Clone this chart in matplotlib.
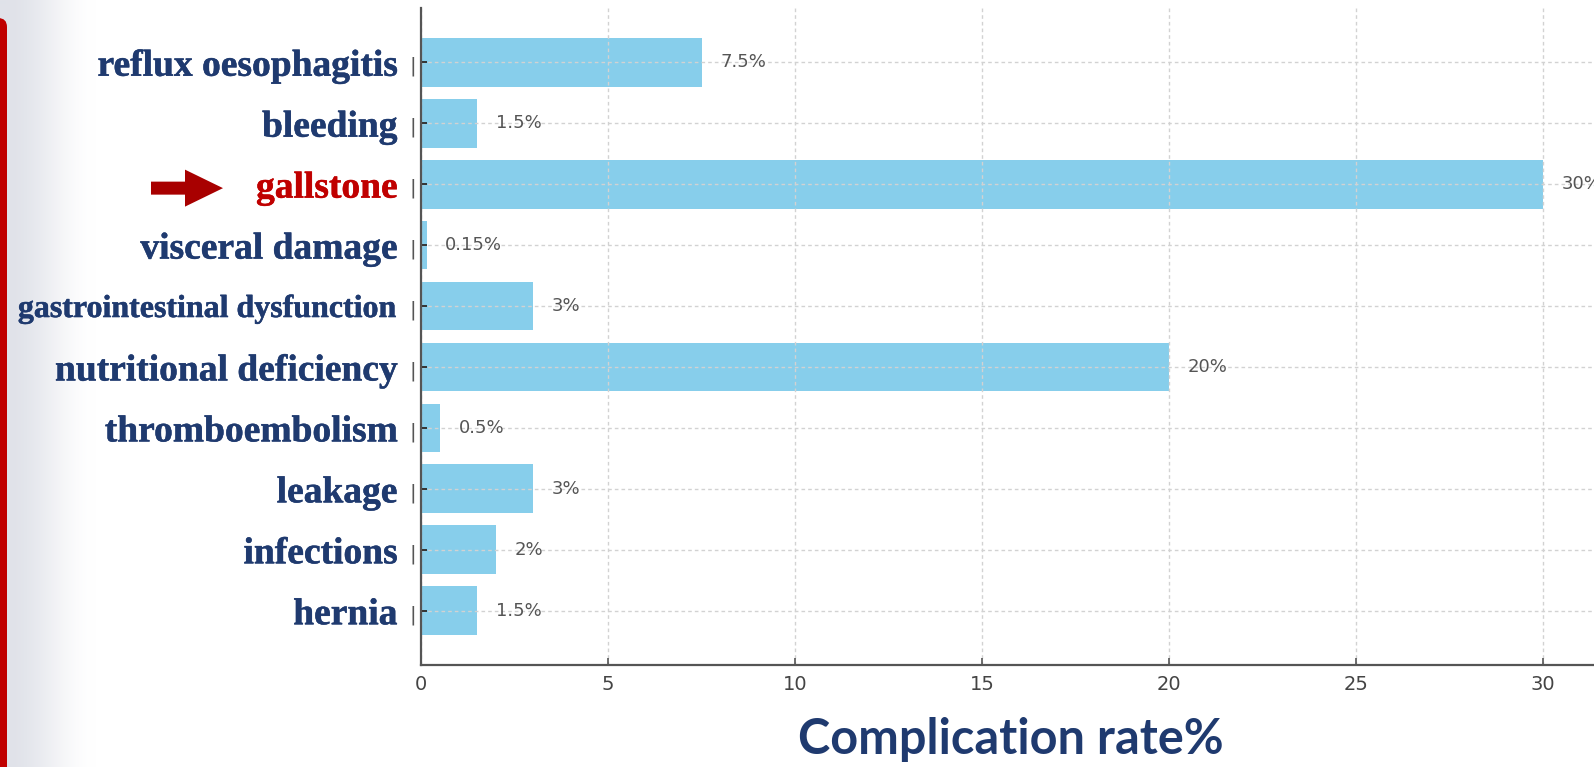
import numpy as np
import matplotlib
matplotlib.use("Agg")
import matplotlib.pyplot as plt
import matplotlib.patheffects as pe
from matplotlib.patches import FancyBboxPatch, FancyArrow
from matplotlib.transforms import IdentityTransform

# complication rates (%) after the procedure
categories = ['reflux oesophagitis', 'bleeding', 'gallstone', 'visceral damage',
              'gastrointestinal dysfunction', 'nutritional deficiency',
              'thromboembolism', 'leakage', 'infections', 'hernia']
rates = [7.5, 1.5, 30, 0.15, 3, 20, 0.5, 3, 2, 1.5]
rate_labels = ['7.5%', '1.5%', '30%', '0.15%', '3%', '20%', '0.5%', '3%', '2%', '1.5%']
xticks = [0, 5, 10, 15, 20, 25, 30]
highlight = 'gallstone'

W, H = 1594, 767
navy = '#1F3A6F'
red = '#C00000'

fig = plt.figure(figsize=(W / 100, H / 100), dpi=100)
fig.patch.set_facecolor('white')

# slide background: soft grey fade on the left edge
bg = fig.add_axes([0, 0, 1, 1], zorder=-2)
bg.axis('off')
cols = np.arange(W)
t = np.clip((cols - 6) / 90.0, 0, 1)
fade = t * t * (3 - 2 * t)
start = np.array([0xE0, 0xE2, 0xE9]) / 255.0
row = start[None, :] * (1 - fade[:, None]) + fade[:, None]
bg.imshow(row[None, :, :], aspect='auto', extent=[0, 1, 0, 1],
          interpolation='bilinear')
bg.set_xlim(0, 1)
bg.set_ylim(0, 1)

# red stripe with rounded top
fig.patches.append(FancyBboxPatch((-30, -30), 37, H - 18 + 30,
                                  boxstyle='round,pad=0,rounding_size=9',
                                  transform=IdentityTransform(),
                                  facecolor=red, edgecolor='none', zorder=5))

ax = fig.add_axes([421 / W, 102 / H, (W - 421) / W, 657 / H])
ax.set_facecolor('none')
y = np.arange(len(categories))
ax.barh(y, rates, height=0.8, color='#87CEEB')
ax.invert_yaxis()
ax.set_xlim(0, (W - 421) / 37.4)

for yi, v, lab in zip(y, rates, rate_labels):
    ax.text(v + 0.5, yi, lab, va='center', ha='left', fontsize=13,
            color='#555555', clip_on=False)

ax.grid(True, linestyle=(0, (2.6, 2.2)), color='#d2d2d2', linewidth=1.0)

for side in ['top', 'right']:
    ax.spines[side].set_visible(False)
for side in ['left', 'bottom']:
    ax.spines[side].set_color('#555555')
    ax.spines[side].set_linewidth(1.6)

ax.set_xticks(xticks)
ax.tick_params(axis='x', direction='in', length=5, width=1.2, color='#555555',
               labelsize=14, labelcolor='#444444', pad=7)
ax.set_yticks(y)
ax.set_yticklabels(categories)
ax.tick_params(axis='y', direction='in', length=4.5, width=1.4, color='#333333', pad=17)
for lab in ax.get_yticklabels():
    lab.set_fontfamily('Liberation Serif')
    lab.set_fontweight('bold')
    lab.set_fontsize(27)
    col = red if lab.get_text() == highlight else navy
    lab.set_color(col)
    lab.set_path_effects([pe.withStroke(linewidth=0.35, foreground=col)])
    if lab.get_text() == 'gastrointestinal dysfunction':
        lab.set_fontsize(23)

# small marks beside each row label
for yi in y:
    ax.annotate('|', xy=(0, yi), xycoords=('axes fraction', 'data'),
                xytext=(-8, -4), textcoords='offset pixels',
                ha='center', va='center', fontsize=14, color='#555555')

fig.text(1011 / W, 27 / H, 'Complication rate%', ha='center', va='center',
         fontsize=35, fontweight='bold', fontfamily='Lato', color=navy)

# arrow pointing at the highlighted row
fig.canvas.draw()
gy = ax.transData.transform((0, categories.index(highlight)))[1] - 4
fig.patches.append(FancyArrow(151, gy, 72, 0, width=13, head_width=37,
                              head_length=38, length_includes_head=True,
                              transform=IdentityTransform(),
                              facecolor='#A80000', edgecolor='none'))

fig.savefig('out.png', dpi=100)
